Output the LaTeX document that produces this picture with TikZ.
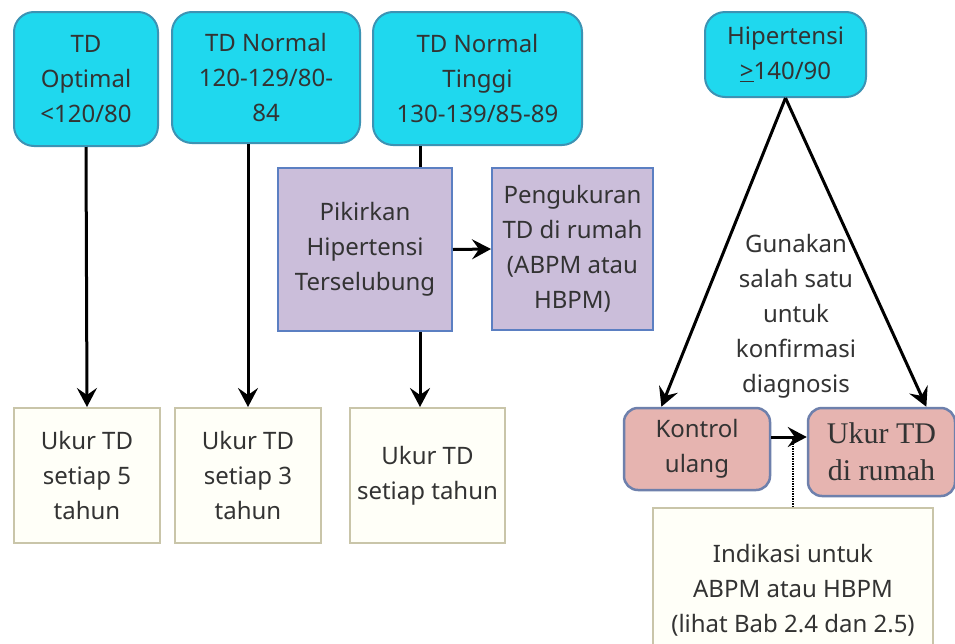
\documentclass[tikz,border=0pt]{standalone}
\usepackage{fontspec}
\setmainfont{Noto Sans}
\newfontfamily\serifb{Liberation Serif}
\usetikzlibrary{arrows.meta,calc}
\definecolor{cyanf}{HTML}{1FD8EE}
\definecolor{cyand}{HTML}{3C93B4}
\definecolor{purf}{HTML}{CBBEDA}
\definecolor{purd}{HTML}{5B7FC2}
\definecolor{pinkf}{HTML}{E6B4B0}
\definecolor{pinkd}{HTML}{6E80AC}
\definecolor{ivf}{HTML}{FFFFF8}
\definecolor{ivd}{HTML}{C9C5A9}
\definecolor{txt}{HTML}{333333}
\tikzset{
  base/.style={align=center, text=txt, inner sep=1pt, font=\fontsize{24}{35}\selectfont},
  topbox/.style={base, draw=cyand, fill=cyanf, line width=2pt, rounded corners=20pt},
  purbox/.style={base, draw=purd, fill=purf, line width=2pt},
  pinkbox/.style={base, draw=pinkd, fill=pinkf, line width=2.5pt, rounded corners=14pt},
  ivbox/.style={base, draw=ivd, fill=ivf, line width=2pt},
  conn/.style={draw=black, line width=3pt},
  arr/.style={conn, -{Stealth[length=19pt,width=20pt,inset=7pt]}},
}
\begin{document}
\begin{tikzpicture}[x=1pt,y=-1pt]
\useasboundingbox[fill=white] (0,0) rectangle (955,643);
% top boxes
\node[topbox, minimum width=144pt, minimum height=134pt] (opt) at (86,79) {TD\\Optimal\\<120/80};
\node[topbox, minimum width=188pt, minimum height=131pt] (norm) at (266,77.5) {TD Normal\\120-129/80-\\84};
\node[topbox, minimum width=209pt, minimum height=133pt] (ting) at (477.5,78.5) {TD Normal\\Tinggi\\130-139/85-89};
\node[topbox, minimum width=161pt, minimum height=85pt] (hip) at (785.5,54.5) {Hipertensi\\\underline{>}140/90};
% middle
\node[purbox, minimum width=174pt, minimum height=163pt] (pik) at (365,249.5) {Pikirkan\\Hipertensi\\Terselubung};
\node[purbox, minimum width=161pt, minimum height=162pt] (peng) at (572.5,249) {Pengukuran\\TD di rumah\\(ABPM atau\\HBPM)};
% bottom
\node[ivbox, minimum width=146pt, minimum height=135pt] (u5) at (87,475.5) {Ukur TD\\setiap 5\\tahun};
\node[ivbox, minimum width=146pt, minimum height=135pt] (u3) at (248,475.5) {Ukur TD\\setiap 3\\tahun};
\node[ivbox, minimum width=155pt, minimum height=135pt] (ut) at (427.5,475.5) {Ukur TD\\setiap tahun};
% right
\node[pinkbox, minimum width=146pt, minimum height=82pt] (kon) at (697,449) {Kontrol\\ulang};
\node[pinkbox, minimum width=147pt, minimum height=88pt, inner sep=0pt, font=\serifb\fontsize{30}{37}\selectfont] (rum) at (881.5,452) {Ukur TD\\di rumah};
\node[ivbox, minimum width=280pt, minimum height=164pt] (ind) at (793,590) {Indikasi untuk\\ABPM atau HBPM\\(lihat Bab 2.4 dan 2.5)};
\node[base] (gun) at (796,316) {Gunakan\\salah satu\\untuk\\konfirmasi\\diagnosis};
% connectors
\coordinate (c1) at (420,0);
\coordinate (ay) at (0,437);
\draw[arr] (opt.south) -- (u5.north);
\draw[arr] (u3.north |- norm.south) -- (u3.north);
\draw[conn] (ting.south -| c1) -- (pik.north -| c1);
\draw[arr] (pik.south -| c1) -- (ut.north -| c1);
\draw[arr] (pik.east) -- (peng.west);
\draw[arr] (hip.south) -- ($(kon.north west)!0.26!(kon.north east)$);
\draw[arr] (hip.south) -- ($(rum.north west)!0.8!(rum.north east)$);
\draw[densely dotted, line width=1.5pt] (ind.north) -- (ind.north |- ay);
\draw[arr] (kon.east |- ay) -- (rum.west |- ay);
\end{tikzpicture}
\end{document}
